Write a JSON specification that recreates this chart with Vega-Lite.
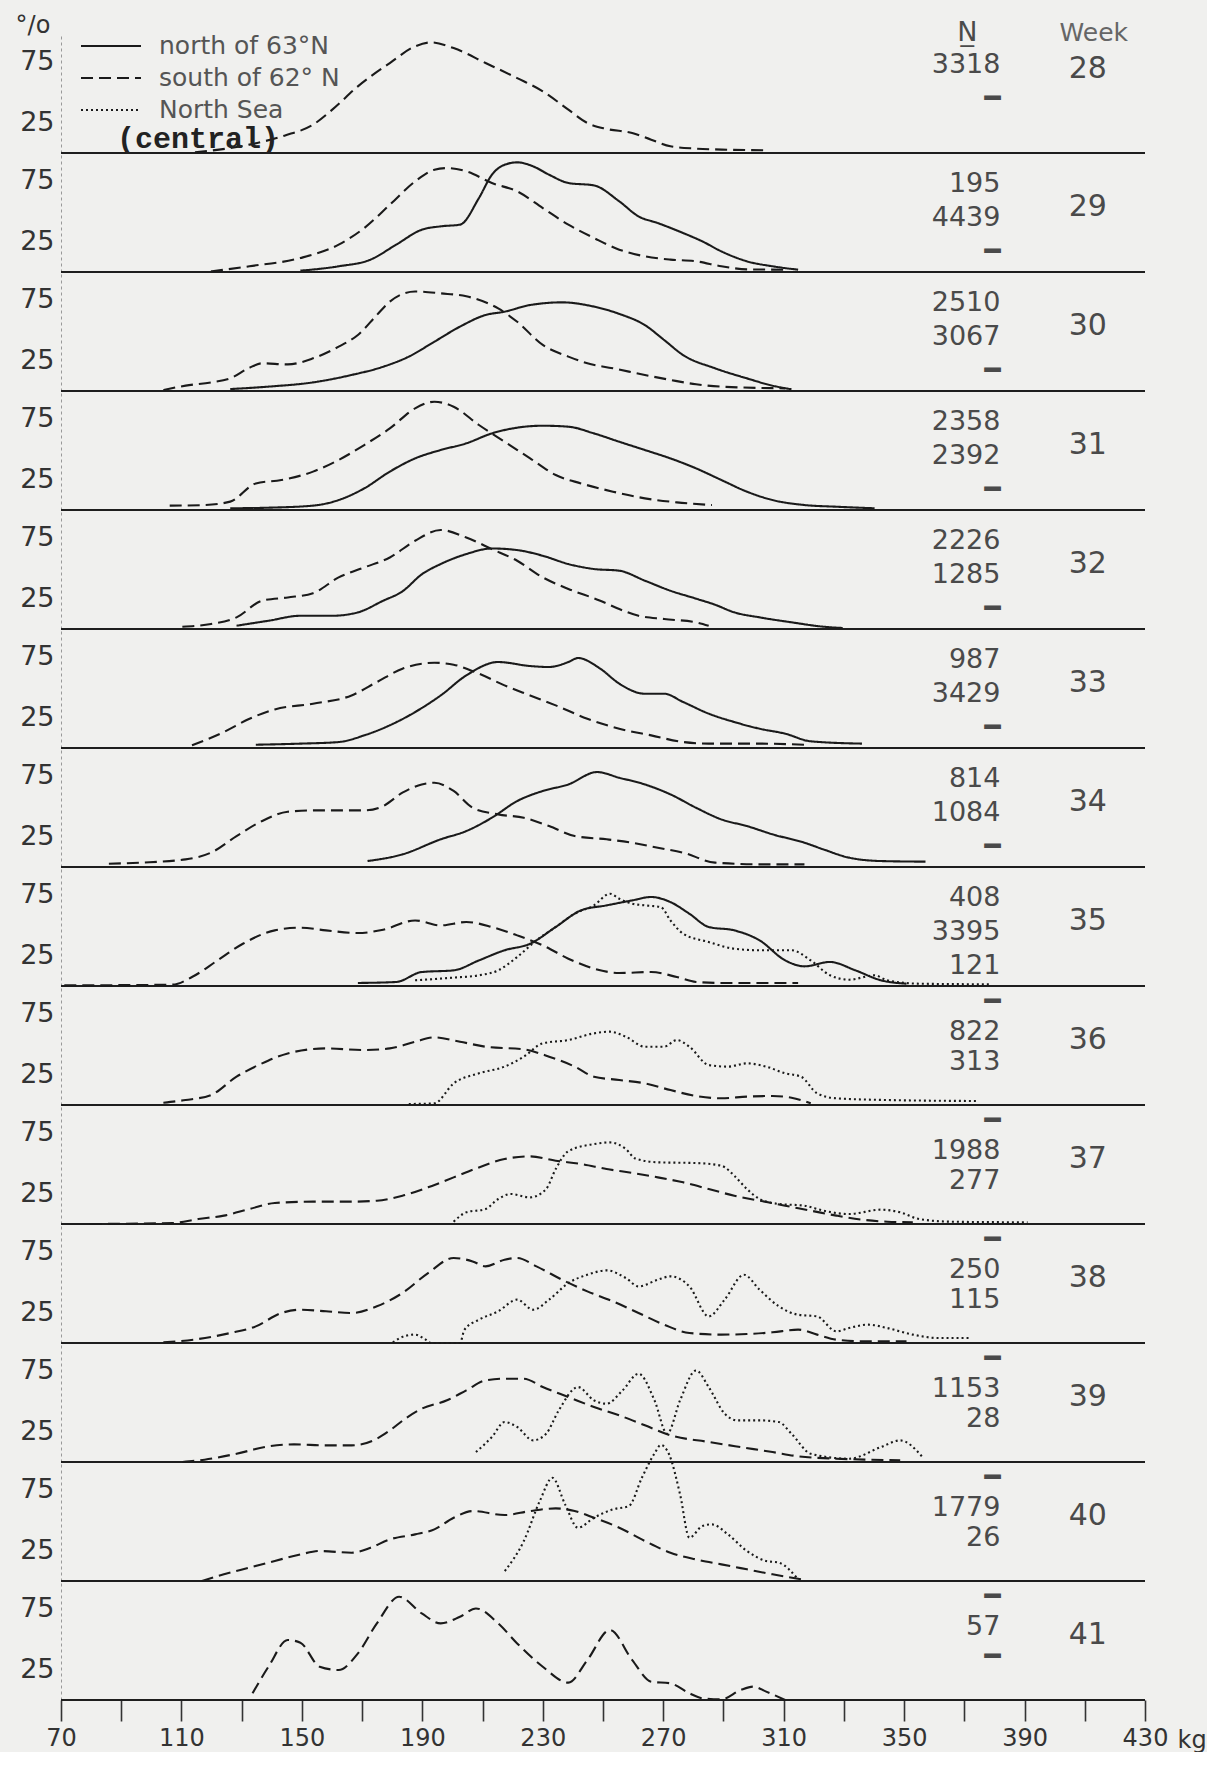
{
"$schema": "https://vega.github.io/schema/vega-lite/v6.json",
"background": "#f0f0ee",
"padding": {"left": 15, "top": 14, "right": 0, "bottom": 0},
"config": {"view": {"stroke": null}, "font": "DejaVu Sans"},
"datasets": {
"t": [
{"w":28,"cnt":"3318|━\u00a0\u00a0"},
{"w":29,"cnt":"195|4439|━\u00a0\u00a0"},
{"w":30,"cnt":"2510|3067|━\u00a0\u00a0"},
{"w":31,"cnt":"2358|2392|━\u00a0\u00a0"},
{"w":32,"cnt":"2226|1285|━\u00a0\u00a0"},
{"w":33,"cnt":"987|3429|━\u00a0\u00a0"},
{"w":34,"cnt":"814|1084|━\u00a0\u00a0"},
{"w":35,"cnt":"408|3395|121"},
{"w":36,"cnt":"━\u00a0\u00a0|822|313"},
{"w":37,"cnt":"━\u00a0|1988|277"},
{"w":38,"cnt":"━\u00a0|250|115"},
{"w":39,"cnt":"━\u00a0|1153|28"},
{"w":40,"cnt":"━\u00a0|1779|26"},
{"w":41,"cnt":"━\u00a0|57|━\u00a0"},
{"w":28,"r":"s","x":114.5,"y":0.5},{"w":28,"r":"s","x":132.6,"y":6.9},{"w":28,"r":"s","x":144.2,"y":14.3},{"w":28,"r":"s","x":153.7,"y":23.3},{"w":28,"r":"s","x":160.1,"y":35.7},{"w":28,"r":"s","x":168.6,"y":54.9},{"w":28,"r":"s","x":179.2,"y":74.1},{"w":28,"r":"s","x":187.6,"y":87.8},{"w":28,"r":"s","x":192.9,"y":91.1},{"w":28,"r":"s","x":200.4,"y":86.4},{"w":28,"r":"s","x":211,"y":74.1},{"w":28,"r":"s","x":221.5,"y":61.7},{"w":28,"r":"s","x":230,"y":50.8},{"w":28,"r":"s","x":238.5,"y":35.7},{"w":28,"r":"s","x":244.8,"y":24.7},{"w":28,"r":"s","x":251.2,"y":19.8},{"w":28,"r":"s","x":259.7,"y":16.5},{"w":28,"r":"s","x":266,"y":11},{"w":28,"r":"s","x":272.4,"y":5.5},{"w":28,"r":"s","x":280.9,"y":3.6},{"w":28,"r":"s","x":291.5,"y":2.7},{"w":28,"r":"s","x":304.2,"y":2.2},
{"w":29,"r":"s","x":119.8,"y":0.5},{"w":29,"r":"s","x":132.6,"y":4.7},{"w":29,"r":"s","x":149.5,"y":11.5},{"w":29,"r":"s","x":162.2,"y":22.5},{"w":29,"r":"s","x":170.7,"y":36.2},{"w":29,"r":"s","x":179.2,"y":55.4},{"w":29,"r":"s","x":187.6,"y":74.6},{"w":29,"r":"s","x":194,"y":84.2},{"w":29,"r":"s","x":198.2,"y":85.6},{"w":29,"r":"s","x":204.6,"y":82.9},{"w":29,"r":"s","x":213.1,"y":73.3},{"w":29,"r":"s","x":221.5,"y":66.4},{"w":29,"r":"s","x":230,"y":52.7},{"w":29,"r":"s","x":238.5,"y":39},{"w":29,"r":"s","x":247,"y":28},{"w":29,"r":"s","x":255.4,"y":18.4},{"w":29,"r":"s","x":263.9,"y":12.9},{"w":29,"r":"s","x":272.4,"y":10.2},{"w":29,"r":"s","x":280.9,"y":8.8},{"w":29,"r":"s","x":289.3,"y":4.7},{"w":29,"r":"s","x":297.8,"y":2.2},{"w":29,"r":"s","x":310.5,"y":1.9},
{"w":29,"r":"n","x":149.5,"y":1.1},{"w":29,"r":"n","x":162.2,"y":4.7},{"w":29,"r":"n","x":172.8,"y":10.2},{"w":29,"r":"n","x":181.3,"y":22.5},{"w":29,"r":"n","x":189.8,"y":34.8},{"w":29,"r":"n","x":196.1,"y":37.6},{"w":29,"r":"n","x":202.5,"y":39},{"w":29,"r":"n","x":208.8,"y":60.9},{"w":29,"r":"n","x":213.1,"y":80.1},{"w":29,"r":"n","x":217.3,"y":88.3},{"w":29,"r":"n","x":221.5,"y":90.3},{"w":29,"r":"n","x":226.8,"y":87},{"w":29,"r":"n","x":232.1,"y":80.1},{"w":29,"r":"n","x":238.5,"y":73.3},{"w":29,"r":"n","x":247,"y":71.3},{"w":29,"r":"n","x":255.4,"y":58.2},{"w":29,"r":"n","x":261.8,"y":45.8},{"w":29,"r":"n","x":268.2,"y":40.3},{"w":29,"r":"n","x":276.6,"y":32.1},{"w":29,"r":"n","x":283,"y":25.2},{"w":29,"r":"n","x":289.3,"y":17},{"w":29,"r":"n","x":297.8,"y":8.8},{"w":29,"r":"n","x":306.3,"y":4.7},{"w":29,"r":"n","x":314.8,"y":1.9},
{"w":30,"r":"s","x":104,"y":0.8},{"w":30,"r":"s","x":111.4,"y":4.4},{"w":30,"r":"s","x":119.8,"y":7.1},{"w":30,"r":"s","x":126.2,"y":10.4},{"w":30,"r":"s","x":132.6,"y":19.2},{"w":30,"r":"s","x":136.8,"y":22.8},{"w":30,"r":"s","x":145.3,"y":21.9},{"w":30,"r":"s","x":153.7,"y":26.9},{"w":30,"r":"s","x":162.2,"y":36.5},{"w":30,"r":"s","x":168.6,"y":46.1},{"w":30,"r":"s","x":174.9,"y":62.6},{"w":30,"r":"s","x":179.2,"y":73.6},{"w":30,"r":"s","x":187.6,"y":82},{"w":30,"r":"s","x":196.1,"y":80.4},{"w":30,"r":"s","x":204.6,"y":78},{"w":30,"r":"s","x":215.2,"y":68},{"w":30,"r":"s","x":221.5,"y":57},{"w":30,"r":"s","x":230,"y":37.9},{"w":30,"r":"s","x":238.5,"y":28.3},{"w":30,"r":"s","x":244.8,"y":22.8},{"w":30,"r":"s","x":253.3,"y":18.7},{"w":30,"r":"s","x":263.9,"y":13.2},{"w":30,"r":"s","x":272.4,"y":9.1},{"w":30,"r":"s","x":280.9,"y":5.5},{"w":30,"r":"s","x":289.3,"y":3.6},{"w":30,"r":"s","x":310.5,"y":2.2},
{"w":30,"r":"n","x":126.2,"y":1.6},{"w":30,"r":"n","x":138.9,"y":3.6},{"w":30,"r":"n","x":153.7,"y":7.1},{"w":30,"r":"n","x":166.5,"y":13.2},{"w":30,"r":"n","x":177,"y":20},{"w":30,"r":"n","x":185.5,"y":28.3},{"w":30,"r":"n","x":194,"y":40.6},{"w":30,"r":"n","x":202.5,"y":53},{"w":30,"r":"n","x":211,"y":62.6},{"w":30,"r":"n","x":217.3,"y":65.3},{"w":30,"r":"n","x":225.8,"y":70.8},{"w":30,"r":"n","x":236.4,"y":73},{"w":30,"r":"n","x":247,"y":69.5},{"w":30,"r":"n","x":255.4,"y":63.5},{"w":30,"r":"n","x":263.9,"y":54.3},{"w":30,"r":"n","x":270.3,"y":42},{"w":30,"r":"n","x":276.6,"y":29.6},{"w":30,"r":"n","x":287.2,"y":18.7},{"w":30,"r":"n","x":297.8,"y":10.4},{"w":30,"r":"n","x":306.3,"y":4.4},{"w":30,"r":"n","x":312.6,"y":1.4},
{"w":31,"r":"s","x":106.1,"y":3.6},{"w":31,"r":"s","x":117.7,"y":4.1},{"w":31,"r":"s","x":126.2,"y":6.9},{"w":31,"r":"s","x":134.7,"y":21.9},{"w":31,"r":"s","x":143.2,"y":24.7},{"w":31,"r":"s","x":153.7,"y":31.6},{"w":31,"r":"s","x":162.2,"y":41.2},{"w":31,"r":"s","x":170.7,"y":53.5},{"w":31,"r":"s","x":179.2,"y":67.2},{"w":31,"r":"s","x":187.6,"y":83.7},{"w":31,"r":"s","x":194,"y":89.2},{"w":31,"r":"s","x":200.4,"y":85},{"w":31,"r":"s","x":208.8,"y":70},{"w":31,"r":"s","x":217.3,"y":56.3},{"w":31,"r":"s","x":225.8,"y":42.5},{"w":31,"r":"s","x":234.3,"y":28.8},{"w":31,"r":"s","x":242.7,"y":21.9},{"w":31,"r":"s","x":253.3,"y":15.1},{"w":31,"r":"s","x":263.9,"y":9.6},{"w":31,"r":"s","x":274.5,"y":6.3},{"w":31,"r":"s","x":286.2,"y":4.1},
{"w":31,"r":"n","x":126.2,"y":1.4},{"w":31,"r":"n","x":138.9,"y":1.9},{"w":31,"r":"n","x":153.7,"y":3.6},{"w":31,"r":"n","x":162.2,"y":8.2},{"w":31,"r":"n","x":170.7,"y":17.8},{"w":31,"r":"n","x":179.2,"y":31.6},{"w":31,"r":"n","x":187.6,"y":42.5},{"w":31,"r":"n","x":196.1,"y":49.4},{"w":31,"r":"n","x":204.6,"y":54.9},{"w":31,"r":"n","x":213.1,"y":63.1},{"w":31,"r":"n","x":221.5,"y":67.8},{"w":31,"r":"n","x":230,"y":69.4},{"w":31,"r":"n","x":238.5,"y":68.6},{"w":31,"r":"n","x":247,"y":63.1},{"w":31,"r":"n","x":255.4,"y":56.2},{"w":31,"r":"n","x":263.9,"y":49.4},{"w":31,"r":"n","x":272.4,"y":42.5},{"w":31,"r":"n","x":280.9,"y":34.3},{"w":31,"r":"n","x":289.3,"y":24.7},{"w":31,"r":"n","x":297.8,"y":15.1},{"w":31,"r":"n","x":306.3,"y":8.2},{"w":31,"r":"n","x":316.9,"y":4.1},{"w":31,"r":"n","x":327.5,"y":2.7},{"w":31,"r":"n","x":340.2,"y":1.4},
{"w":32,"r":"s","x":110.3,"y":1.9},{"w":32,"r":"s","x":119.8,"y":4.1},{"w":32,"r":"s","x":128.3,"y":9.6},{"w":32,"r":"s","x":136.8,"y":23.3},{"w":32,"r":"s","x":145.3,"y":26},{"w":32,"r":"s","x":153.7,"y":29.5},{"w":32,"r":"s","x":162.2,"y":42.5},{"w":32,"r":"s","x":170.7,"y":50.7},{"w":32,"r":"s","x":179.2,"y":58.9},{"w":32,"r":"s","x":187.6,"y":72.7},{"w":32,"r":"s","x":196.1,"y":81.5},{"w":32,"r":"s","x":204.6,"y":75.4},{"w":32,"r":"s","x":213.1,"y":65.8},{"w":32,"r":"s","x":221.5,"y":56.2},{"w":32,"r":"s","x":230,"y":42.5},{"w":32,"r":"s","x":238.5,"y":33},{"w":32,"r":"s","x":249.1,"y":23.3},{"w":32,"r":"s","x":255.4,"y":16.4},{"w":32,"r":"s","x":261.8,"y":10.9},{"w":32,"r":"s","x":270.3,"y":8.2},{"w":32,"r":"s","x":280.9,"y":5.5},{"w":32,"r":"s","x":285.1,"y":2.7},
{"w":32,"r":"n","x":128.3,"y":2.7},{"w":32,"r":"n","x":138.9,"y":6.8},{"w":32,"r":"n","x":149.5,"y":10.9},{"w":32,"r":"n","x":160.1,"y":10.9},{"w":32,"r":"n","x":168.6,"y":13.7},{"w":32,"r":"n","x":177,"y":23.3},{"w":32,"r":"n","x":183.4,"y":31},{"w":32,"r":"n","x":189.8,"y":45},{"w":32,"r":"n","x":196.1,"y":53.5},{"w":32,"r":"n","x":204.6,"y":61.7},{"w":32,"r":"n","x":213.1,"y":66.3},{"w":32,"r":"n","x":221.5,"y":65},{"w":32,"r":"n","x":230,"y":60.3},{"w":32,"r":"n","x":238.5,"y":53.5},{"w":32,"r":"n","x":247,"y":49.4},{"w":32,"r":"n","x":255.4,"y":48},{"w":32,"r":"n","x":263.9,"y":39.8},{"w":32,"r":"n","x":272.4,"y":31.5},{"w":32,"r":"n","x":280.9,"y":25},{"w":32,"r":"n","x":287.2,"y":20},{"w":32,"r":"n","x":293.6,"y":13.7},{"w":32,"r":"n","x":302,"y":9.6},{"w":32,"r":"n","x":312.6,"y":5.5},{"w":32,"r":"n","x":323.2,"y":1.9},{"w":32,"r":"n","x":329.6,"y":0.8},
{"w":33,"r":"s","x":113.5,"y":2.2},{"w":33,"r":"s","x":124.1,"y":13.2},{"w":33,"r":"s","x":132.6,"y":24.1},{"w":33,"r":"s","x":141,"y":31.8},{"w":33,"r":"s","x":153.7,"y":36.5},{"w":33,"r":"s","x":166.5,"y":43.3},{"w":33,"r":"s","x":174.9,"y":54.3},{"w":33,"r":"s","x":183.4,"y":65.3},{"w":33,"r":"s","x":194,"y":70.2},{"w":33,"r":"s","x":200.4,"y":68.6},{"w":33,"r":"s","x":208.8,"y":61.2},{"w":33,"r":"s","x":217.3,"y":51.6},{"w":33,"r":"s","x":225.8,"y":43.3},{"w":33,"r":"s","x":234.3,"y":35.1},{"w":33,"r":"s","x":244.8,"y":24.1},{"w":33,"r":"s","x":255.4,"y":15.9},{"w":33,"r":"s","x":266,"y":10.4},{"w":33,"r":"s","x":276.6,"y":4.9},{"w":33,"r":"s","x":285.1,"y":3.6},{"w":33,"r":"s","x":302,"y":3.6},{"w":33,"r":"s","x":316.9,"y":2.7},
{"w":33,"r":"n","x":134.7,"y":2.7},{"w":33,"r":"n","x":149.5,"y":3.6},{"w":33,"r":"n","x":162.2,"y":4.9},{"w":33,"r":"n","x":170.7,"y":10.4},{"w":33,"r":"n","x":179.2,"y":18.7},{"w":33,"r":"n","x":187.6,"y":29.6},{"w":33,"r":"n","x":196.1,"y":43.3},{"w":33,"r":"n","x":204.6,"y":59.8},{"w":33,"r":"n","x":215.2,"y":70.8},{"w":33,"r":"n","x":225.8,"y":67.5},{"w":33,"r":"n","x":232.1,"y":66.7},{"w":33,"r":"n","x":238.5,"y":70.8},{"w":33,"r":"n","x":241.7,"y":74.1},{"w":33,"r":"n","x":249.1,"y":65.3},{"w":33,"r":"n","x":255.4,"y":53},{"w":33,"r":"n","x":263.9,"y":44.7},{"w":33,"r":"n","x":270.3,"y":44.7},{"w":33,"r":"n","x":276.6,"y":37.9},{"w":33,"r":"n","x":285.1,"y":28.3},{"w":33,"r":"n","x":293.6,"y":21.4},{"w":33,"r":"n","x":302,"y":15.9},{"w":33,"r":"n","x":310.5,"y":11.8},{"w":33,"r":"n","x":319,"y":5.5},{"w":33,"r":"n","x":336,"y":3.6},
{"w":34,"r":"s","x":85.9,"y":2.7},{"w":34,"r":"s","x":96.5,"y":3.6},{"w":34,"r":"s","x":111.4,"y":6.3},{"w":34,"r":"s","x":119.8,"y":11.8},{"w":34,"r":"s","x":128.3,"y":25.5},{"w":34,"r":"s","x":136.8,"y":37.9},{"w":34,"r":"s","x":145.3,"y":45.5},{"w":34,"r":"s","x":153.7,"y":46.6},{"w":34,"r":"s","x":170.7,"y":46.6},{"w":34,"r":"s","x":177,"y":50.2},{"w":34,"r":"s","x":183.4,"y":61.2},{"w":34,"r":"s","x":189.8,"y":68},{"w":34,"r":"s","x":194,"y":69.4},{"w":34,"r":"s","x":200.4,"y":62.6},{"w":34,"r":"s","x":206.7,"y":48.8},{"w":34,"r":"s","x":215.2,"y":43.3},{"w":34,"r":"s","x":223.7,"y":40.6},{"w":34,"r":"s","x":232.1,"y":33.7},{"w":34,"r":"s","x":240.6,"y":25.5},{"w":34,"r":"s","x":251.2,"y":22.8},{"w":34,"r":"s","x":259.7,"y":20},{"w":34,"r":"s","x":268.2,"y":15.9},{"w":34,"r":"s","x":276.6,"y":11.8},{"w":34,"r":"s","x":287.2,"y":3.6},{"w":34,"r":"s","x":302,"y":2.2},{"w":34,"r":"s","x":316.9,"y":2.2},
{"w":34,"r":"n","x":171.8,"y":4.9},{"w":34,"r":"n","x":183.4,"y":10.4},{"w":34,"r":"n","x":196.1,"y":22.8},{"w":34,"r":"n","x":204.6,"y":29.6},{"w":34,"r":"n","x":213.1,"y":40.6},{"w":34,"r":"n","x":221.5,"y":54.3},{"w":34,"r":"n","x":230,"y":62.6},{"w":34,"r":"n","x":238.5,"y":68},{"w":34,"r":"n","x":248,"y":78.2},{"w":34,"r":"n","x":255.4,"y":73.5},{"w":34,"r":"n","x":263.9,"y":68},{"w":34,"r":"n","x":272.4,"y":59.8},{"w":34,"r":"n","x":280.9,"y":48.8},{"w":34,"r":"n","x":289.3,"y":39.2},{"w":34,"r":"n","x":297.8,"y":33.7},{"w":34,"r":"n","x":306.3,"y":26.9},{"w":34,"r":"n","x":316.9,"y":20},{"w":34,"r":"n","x":323.2,"y":14.5},{"w":34,"r":"n","x":331.7,"y":7.7},{"w":34,"r":"n","x":342.3,"y":4.9},{"w":34,"r":"n","x":357.1,"y":4.4},
{"w":35,"r":"s","x":71.1,"y":0.5},{"w":35,"r":"s","x":107.1,"y":1.1},{"w":35,"r":"s","x":113.5,"y":7.4},{"w":35,"r":"s","x":122,"y":21.1},{"w":35,"r":"s","x":130.4,"y":34.8},{"w":35,"r":"s","x":141,"y":45.8},{"w":35,"r":"s","x":149.5,"y":48},{"w":35,"r":"s","x":158,"y":45.8},{"w":35,"r":"s","x":168.6,"y":43.6},{"w":35,"r":"s","x":177,"y":46.4},{"w":35,"r":"s","x":187.6,"y":54},{"w":35,"r":"s","x":196.1,"y":49.9},{"w":35,"r":"s","x":204.6,"y":52.7},{"w":35,"r":"s","x":213.1,"y":48.6},{"w":35,"r":"s","x":221.5,"y":41.7},{"w":35,"r":"s","x":230,"y":33.5},{"w":35,"r":"s","x":238.5,"y":22.5},{"w":35,"r":"s","x":247,"y":14.3},{"w":35,"r":"s","x":255.4,"y":10.7},{"w":35,"r":"s","x":266,"y":11.5},{"w":35,"r":"s","x":274.5,"y":7.4},{"w":35,"r":"s","x":280.9,"y":3.3},{"w":35,"r":"s","x":289.3,"y":2.5},{"w":35,"r":"s","x":314.8,"y":2.5},
{"w":35,"r":"n","x":168.6,"y":2.5},{"w":35,"r":"n","x":181.3,"y":3.3},{"w":35,"r":"n","x":189.8,"y":11.5},{"w":35,"r":"n","x":200.4,"y":12.9},{"w":35,"r":"n","x":208.8,"y":21.1},{"w":35,"r":"n","x":217.3,"y":29.4},{"w":35,"r":"n","x":225.8,"y":34.8},{"w":35,"r":"n","x":234.3,"y":48.6},{"w":35,"r":"n","x":242.7,"y":62.3},{"w":35,"r":"n","x":251.2,"y":66.4},{"w":35,"r":"n","x":259.7,"y":70.5},{"w":35,"r":"n","x":266,"y":73.3},{"w":35,"r":"n","x":272.4,"y":69.1},{"w":35,"r":"n","x":278.7,"y":59.5},{"w":35,"r":"n","x":285.1,"y":48.6},{"w":35,"r":"n","x":293.6,"y":45.8},{"w":35,"r":"n","x":302,"y":37.6},{"w":35,"r":"n","x":310.5,"y":21.1},{"w":35,"r":"n","x":316.9,"y":16.2},{"w":35,"r":"n","x":325.4,"y":19.8},{"w":35,"r":"n","x":333.8,"y":12.9},{"w":35,"r":"n","x":342.3,"y":4.7},{"w":35,"r":"n","x":350.8,"y":1.9},
{"w":35,"r":"ns","x":187.6,"y":4.7},{"w":35,"r":"ns","x":200.4,"y":6.9},{"w":35,"r":"ns","x":208.8,"y":8.8},{"w":35,"r":"ns","x":215.2,"y":12.9},{"w":35,"r":"ns","x":221.5,"y":23.9},{"w":35,"r":"ns","x":227.9,"y":37.6},{"w":35,"r":"ns","x":234.3,"y":48.6},{"w":35,"r":"ns","x":240.6,"y":59.5},{"w":35,"r":"ns","x":247,"y":66.4},{"w":35,"r":"ns","x":252.3,"y":76},{"w":35,"r":"ns","x":255.4,"y":71.9},{"w":35,"r":"ns","x":259.7,"y":67.8},{"w":35,"r":"ns","x":263.9,"y":66.4},{"w":35,"r":"ns","x":269.2,"y":65},{"w":35,"r":"ns","x":272.4,"y":54},{"w":35,"r":"ns","x":276.6,"y":43.1},{"w":35,"r":"ns","x":285.1,"y":36.2},{"w":35,"r":"ns","x":293.6,"y":30.7},{"w":35,"r":"ns","x":302,"y":29.4},{"w":35,"r":"ns","x":312.6,"y":29.4},{"w":35,"r":"ns","x":319,"y":21.1},{"w":35,"r":"ns","x":325.4,"y":8.8},{"w":35,"r":"ns","x":331.7,"y":5.2},{"w":35,"r":"ns","x":340.2,"y":8.8},{"w":35,"r":"ns","x":344.4,"y":4.7},{"w":35,"r":"ns","x":355,"y":1.9},{"w":35,"r":"ns","x":378.3,"y":1.4},
{"w":36,"r":"s","x":104,"y":1.9},{"w":36,"r":"s","x":111.4,"y":4.1},{"w":36,"r":"s","x":119.8,"y":8.2},{"w":36,"r":"s","x":128.3,"y":23.3},{"w":36,"r":"s","x":136.8,"y":34.3},{"w":36,"r":"s","x":145.3,"y":42.5},{"w":36,"r":"s","x":158,"y":46.6},{"w":36,"r":"s","x":170.7,"y":45.3},{"w":36,"r":"s","x":179.2,"y":46.6},{"w":36,"r":"s","x":187.6,"y":52.1},{"w":36,"r":"s","x":194,"y":55.7},{"w":36,"r":"s","x":202.5,"y":52.1},{"w":36,"r":"s","x":211,"y":48},{"w":36,"r":"s","x":223.7,"y":45.8},{"w":36,"r":"s","x":232.1,"y":39.8},{"w":36,"r":"s","x":240.6,"y":31.6},{"w":36,"r":"s","x":247,"y":23.3},{"w":36,"r":"s","x":255.4,"y":20.6},{"w":36,"r":"s","x":263.9,"y":17.8},{"w":36,"r":"s","x":272.4,"y":12.3},{"w":36,"r":"s","x":280.9,"y":7.4},{"w":36,"r":"s","x":289.3,"y":5.5},{"w":36,"r":"s","x":297.8,"y":6.9},{"w":36,"r":"s","x":306.3,"y":7.4},{"w":36,"r":"s","x":312.6,"y":6},{"w":36,"r":"s","x":319,"y":1.4},
{"w":36,"r":"ns","x":185.5,"y":0.8},{"w":36,"r":"ns","x":194,"y":1.4},{"w":36,"r":"ns","x":200.4,"y":17.8},{"w":36,"r":"ns","x":208.8,"y":26.1},{"w":36,"r":"ns","x":217.3,"y":31.6},{"w":36,"r":"ns","x":223.7,"y":39.8},{"w":36,"r":"ns","x":230,"y":50.8},{"w":36,"r":"ns","x":238.5,"y":53.5},{"w":36,"r":"ns","x":247,"y":59},{"w":36,"r":"ns","x":252.3,"y":60.4},{"w":36,"r":"ns","x":257.6,"y":56.2},{"w":36,"r":"ns","x":263.9,"y":48},{"w":36,"r":"ns","x":270.3,"y":48},{"w":36,"r":"ns","x":274.5,"y":53.5},{"w":36,"r":"ns","x":278.7,"y":48},{"w":36,"r":"ns","x":285.1,"y":32.9},{"w":36,"r":"ns","x":291.5,"y":31.6},{"w":36,"r":"ns","x":297.8,"y":34.3},{"w":36,"r":"ns","x":304.2,"y":31.6},{"w":36,"r":"ns","x":310.5,"y":26.1},{"w":36,"r":"ns","x":315.8,"y":23.3},{"w":36,"r":"ns","x":321.1,"y":9.6},{"w":36,"r":"ns","x":327.5,"y":5.5},{"w":36,"r":"ns","x":344.4,"y":4.1},{"w":36,"r":"ns","x":374.1,"y":3.3},
{"w":37,"r":"s","x":79.6,"y":0},{"w":37,"r":"s","x":107.1,"y":0.8},{"w":37,"r":"s","x":115.6,"y":4.1},{"w":37,"r":"s","x":124.1,"y":6.9},{"w":37,"r":"s","x":132.6,"y":12.3},{"w":37,"r":"s","x":141,"y":17.3},{"w":37,"r":"s","x":153.7,"y":18.4},{"w":37,"r":"s","x":166.5,"y":18.4},{"w":37,"r":"s","x":174.9,"y":19.2},{"w":37,"r":"s","x":183.4,"y":23.3},{"w":37,"r":"s","x":191.9,"y":30.2},{"w":37,"r":"s","x":200.4,"y":38.4},{"w":37,"r":"s","x":208.8,"y":46.6},{"w":37,"r":"s","x":217.3,"y":53.5},{"w":37,"r":"s","x":225.8,"y":55.7},{"w":37,"r":"s","x":234.3,"y":52.1},{"w":37,"r":"s","x":242.7,"y":49.4},{"w":37,"r":"s","x":251.2,"y":45.3},{"w":37,"r":"s","x":259.7,"y":42},{"w":37,"r":"s","x":268.2,"y":38.4},{"w":37,"r":"s","x":276.6,"y":34.3},{"w":37,"r":"s","x":285.1,"y":28.8},{"w":37,"r":"s","x":293.6,"y":23.3},{"w":37,"r":"s","x":302,"y":19.2},{"w":37,"r":"s","x":310.5,"y":15.1},{"w":37,"r":"s","x":319,"y":11},{"w":37,"r":"s","x":327.5,"y":6.9},{"w":37,"r":"s","x":335.9,"y":3.6},{"w":37,"r":"s","x":344.4,"y":1.9},{"w":37,"r":"s","x":352.9,"y":1.4},
{"w":37,"r":"ns","x":200.4,"y":1.9},{"w":37,"r":"ns","x":204.6,"y":9.6},{"w":37,"r":"ns","x":211,"y":12.3},{"w":37,"r":"ns","x":215.2,"y":20.6},{"w":37,"r":"ns","x":219.4,"y":24.7},{"w":37,"r":"ns","x":225.8,"y":21.9},{"w":37,"r":"ns","x":231.1,"y":28.8},{"w":37,"r":"ns","x":234.3,"y":45.3},{"w":37,"r":"ns","x":238.5,"y":60},{"w":37,"r":"ns","x":247,"y":65.8},{"w":37,"r":"ns","x":252.3,"y":67.2},{"w":37,"r":"ns","x":257.6,"y":61.7},{"w":37,"r":"ns","x":260.7,"y":54},{"w":37,"r":"ns","x":268.2,"y":50.8},{"w":37,"r":"ns","x":280.9,"y":50.2},{"w":37,"r":"ns","x":289.3,"y":48},{"w":37,"r":"ns","x":293.6,"y":39.8},{"w":37,"r":"ns","x":297.8,"y":28.8},{"w":37,"r":"ns","x":302,"y":20.6},{"w":37,"r":"ns","x":308.4,"y":16.5},{"w":37,"r":"ns","x":316.9,"y":15.1},{"w":37,"r":"ns","x":323.2,"y":11},{"w":37,"r":"ns","x":331.7,"y":8.2},{"w":37,"r":"ns","x":342.3,"y":11.8},{"w":37,"r":"ns","x":348.7,"y":9.6},{"w":37,"r":"ns","x":355,"y":4.1},{"w":37,"r":"ns","x":365.6,"y":1.9},{"w":37,"r":"ns","x":391,"y":1.4},
{"w":38,"r":"s","x":104,"y":0.5},{"w":38,"r":"s","x":115.6,"y":3.3},{"w":38,"r":"s","x":126.2,"y":8.2},{"w":38,"r":"s","x":134.7,"y":13.7},{"w":38,"r":"s","x":143.2,"y":24.7},{"w":38,"r":"s","x":149.5,"y":27.4},{"w":38,"r":"s","x":158,"y":26.1},{"w":38,"r":"s","x":166.5,"y":24.7},{"w":38,"r":"s","x":174.9,"y":30.2},{"w":38,"r":"s","x":183.4,"y":41.2},{"w":38,"r":"s","x":191.9,"y":57.6},{"w":38,"r":"s","x":200.4,"y":70},{"w":38,"r":"s","x":206.7,"y":67.2},{"w":38,"r":"s","x":211,"y":63.1},{"w":38,"r":"s","x":217.3,"y":68.6},{"w":38,"r":"s","x":221.5,"y":70},{"w":38,"r":"s","x":227.9,"y":63.1},{"w":38,"r":"s","x":236.4,"y":52.1},{"w":38,"r":"s","x":244.8,"y":42.5},{"w":38,"r":"s","x":253.3,"y":34.3},{"w":38,"r":"s","x":261.8,"y":24.7},{"w":38,"r":"s","x":270.3,"y":15.1},{"w":38,"r":"s","x":278.7,"y":8.2},{"w":38,"r":"s","x":289.3,"y":6.9},{"w":38,"r":"s","x":297.8,"y":7.4},{"w":38,"r":"s","x":306.3,"y":8.8},{"w":38,"r":"s","x":314.8,"y":11},{"w":38,"r":"s","x":321.1,"y":6.9},{"w":38,"r":"s","x":327.5,"y":2.7},{"w":38,"r":"s","x":335.9,"y":1.4},{"w":38,"r":"s","x":350.8,"y":1.4},
{"w":38,"r":"ns","x":180.2,"y":0.5},{"w":38,"r":"ns","x":184.5,"y":6},{"w":38,"r":"ns","x":187.6,"y":6.9},{"w":38,"r":"ns","x":190.8,"y":3.3},{"w":38,"r":"ns","x":192.9,"y":0},{"w":38,"r":"ns","x":202.5,"y":0},{"w":38,"r":"ns","x":204,"y":11},{"w":38,"r":"ns","x":208.8,"y":19.2},{"w":38,"r":"ns","x":215.2,"y":26.1},{"w":38,"r":"ns","x":221.5,"y":35.7},{"w":38,"r":"ns","x":226.8,"y":27.4},{"w":38,"r":"ns","x":232.1,"y":35.7},{"w":38,"r":"ns","x":238.5,"y":49.4},{"w":38,"r":"ns","x":244.8,"y":56.2},{"w":38,"r":"ns","x":251.2,"y":59.8},{"w":38,"r":"ns","x":257.6,"y":53.5},{"w":38,"r":"ns","x":261.8,"y":46.6},{"w":38,"r":"ns","x":268.2,"y":52.1},{"w":38,"r":"ns","x":272.4,"y":54.9},{"w":38,"r":"ns","x":278.7,"y":46.6},{"w":38,"r":"ns","x":285.1,"y":21.9},{"w":38,"r":"ns","x":290.4,"y":35.7},{"w":38,"r":"ns","x":296.8,"y":56.2},{"w":38,"r":"ns","x":302,"y":43.9},{"w":38,"r":"ns","x":308.4,"y":30.2},{"w":38,"r":"ns","x":314.8,"y":23.3},{"w":38,"r":"ns","x":321.1,"y":21.9},{"w":38,"r":"ns","x":327.5,"y":9.6},{"w":38,"r":"ns","x":331.7,"y":12.3},{"w":38,"r":"ns","x":338.1,"y":15.1},{"w":38,"r":"ns","x":344.4,"y":12.3},{"w":38,"r":"ns","x":352.9,"y":6.9},{"w":38,"r":"ns","x":361.4,"y":4.1},{"w":38,"r":"ns","x":372,"y":4.1},
{"w":39,"r":"s","x":110.3,"y":0},{"w":39,"r":"s","x":117.7,"y":1.9},{"w":39,"r":"s","x":128.3,"y":6.8},{"w":39,"r":"s","x":138.9,"y":12.9},{"w":39,"r":"s","x":147.4,"y":14.5},{"w":39,"r":"s","x":158,"y":13.7},{"w":39,"r":"s","x":166.5,"y":13.7},{"w":39,"r":"s","x":174.9,"y":19.2},{"w":39,"r":"s","x":179.2,"y":26},{"w":39,"r":"s","x":184.5,"y":36},{"w":39,"r":"s","x":189.8,"y":43.9},{"w":39,"r":"s","x":198.2,"y":50.8},{"w":39,"r":"s","x":204.6,"y":59},{"w":39,"r":"s","x":211,"y":67.2},{"w":39,"r":"s","x":217.3,"y":68.6},{"w":39,"r":"s","x":223.7,"y":68.6},{"w":39,"r":"s","x":230,"y":61.7},{"w":39,"r":"s","x":238.5,"y":53.5},{"w":39,"r":"s","x":247,"y":45.3},{"w":39,"r":"s","x":255.4,"y":38.4},{"w":39,"r":"s","x":263.9,"y":30.2},{"w":39,"r":"s","x":272.4,"y":22},{"w":39,"r":"s","x":285.1,"y":16.5},{"w":39,"r":"s","x":295.7,"y":12.3},{"w":39,"r":"s","x":306.3,"y":8.2},{"w":39,"r":"s","x":314.8,"y":4.7},{"w":39,"r":"s","x":327.5,"y":2.7},{"w":39,"r":"s","x":338.1,"y":1.9},{"w":39,"r":"s","x":348.7,"y":1.4},
{"w":39,"r":"ns","x":207.8,"y":8.2},{"w":39,"r":"ns","x":213.1,"y":20.6},{"w":39,"r":"ns","x":217.3,"y":32.9},{"w":39,"r":"ns","x":221.5,"y":28.8},{"w":39,"r":"ns","x":226.8,"y":17.8},{"w":39,"r":"ns","x":231.1,"y":23.3},{"w":39,"r":"ns","x":235.3,"y":42.5},{"w":39,"r":"ns","x":241.7,"y":61.7},{"w":39,"r":"ns","x":247,"y":50.8},{"w":39,"r":"ns","x":251.2,"y":48},{"w":39,"r":"ns","x":256.5,"y":59},{"w":39,"r":"ns","x":261.8,"y":72.7},{"w":39,"r":"ns","x":267.1,"y":50.8},{"w":39,"r":"ns","x":271.3,"y":23.3},{"w":39,"r":"ns","x":275.6,"y":50.8},{"w":39,"r":"ns","x":280.9,"y":75.4},{"w":39,"r":"ns","x":285.1,"y":61.7},{"w":39,"r":"ns","x":290.4,"y":39.8},{"w":39,"r":"ns","x":294.6,"y":34.3},{"w":39,"r":"ns","x":302,"y":34.3},{"w":39,"r":"ns","x":308.4,"y":32.9},{"w":39,"r":"ns","x":312.6,"y":23.3},{"w":39,"r":"ns","x":319,"y":6.8},{"w":39,"r":"ns","x":331.7,"y":2.7},{"w":39,"r":"ns","x":342.3,"y":12.3},{"w":39,"r":"ns","x":348.7,"y":17.8},{"w":39,"r":"ns","x":356.1,"y":4.1},
{"w":40,"r":"s","x":116.7,"y":0},{"w":40,"r":"s","x":124.1,"y":5.5},{"w":40,"r":"s","x":132.6,"y":11},{"w":40,"r":"s","x":141,"y":16.5},{"w":40,"r":"s","x":149.5,"y":21.9},{"w":40,"r":"s","x":155.9,"y":24.7},{"w":40,"r":"s","x":166.5,"y":23.3},{"w":40,"r":"s","x":172.8,"y":27.4},{"w":40,"r":"s","x":179.2,"y":34.3},{"w":40,"r":"s","x":187.6,"y":38.4},{"w":40,"r":"s","x":194,"y":42.5},{"w":40,"r":"s","x":200.4,"y":52.1},{"w":40,"r":"s","x":206.7,"y":57.6},{"w":40,"r":"s","x":217.3,"y":54.3},{"w":40,"r":"s","x":225.8,"y":57.6},{"w":40,"r":"s","x":234.3,"y":59.8},{"w":40,"r":"s","x":240.6,"y":57.6},{"w":40,"r":"s","x":247,"y":52.1},{"w":40,"r":"s","x":255.4,"y":43.9},{"w":40,"r":"s","x":263.9,"y":32.9},{"w":40,"r":"s","x":272.4,"y":23.3},{"w":40,"r":"s","x":280.9,"y":17.8},{"w":40,"r":"s","x":289.3,"y":13.7},{"w":40,"r":"s","x":297.8,"y":9.6},{"w":40,"r":"s","x":306.3,"y":5.5},{"w":40,"r":"s","x":315.8,"y":1.4},
{"w":40,"r":"ns","x":217.4,"y":8.2},{"w":40,"r":"ns","x":223.7,"y":32.9},{"w":40,"r":"ns","x":229,"y":65.8},{"w":40,"r":"ns","x":233.2,"y":85},{"w":40,"r":"ns","x":237.4,"y":63.1},{"w":40,"r":"ns","x":241.7,"y":43.9},{"w":40,"r":"ns","x":247,"y":52.1},{"w":40,"r":"ns","x":253.3,"y":59},{"w":40,"r":"ns","x":258.6,"y":61.7},{"w":40,"r":"ns","x":262.9,"y":85},{"w":40,"r":"ns","x":267.1,"y":105},{"w":40,"r":"ns","x":269.2,"y":112},{"w":40,"r":"ns","x":272,"y":104},{"w":40,"r":"ns","x":275.6,"y":71.3},{"w":40,"r":"ns","x":278.7,"y":35.7},{"w":40,"r":"ns","x":283,"y":45.3},{"w":40,"r":"ns","x":286.2,"y":46.6},{"w":40,"r":"ns","x":291.5,"y":38.4},{"w":40,"r":"ns","x":297.8,"y":24.7},{"w":40,"r":"ns","x":304.2,"y":16.5},{"w":40,"r":"ns","x":308.4,"y":15.1},{"w":40,"r":"ns","x":314.8,"y":1.4},
{"w":41,"r":"s","x":133.6,"y":5.5},{"w":41,"r":"s","x":138.9,"y":27.4},{"w":41,"r":"s","x":145.3,"y":49.4},{"w":41,"r":"s","x":149.5,"y":47.2},{"w":41,"r":"s","x":155.9,"y":27.4},{"w":41,"r":"s","x":162.2,"y":24.7},{"w":41,"r":"s","x":168.6,"y":38.4},{"w":41,"r":"s","x":174.9,"y":63.1},{"w":41,"r":"s","x":182.3,"y":85},{"w":41,"r":"s","x":189.8,"y":71.3},{"w":41,"r":"s","x":196.1,"y":63.1},{"w":41,"r":"s","x":202.5,"y":68.6},{"w":41,"r":"s","x":207.8,"y":75.4},{"w":41,"r":"s","x":215.2,"y":63.1},{"w":41,"r":"s","x":221.5,"y":46.6},{"w":41,"r":"s","x":230,"y":27.4},{"w":41,"r":"s","x":238.5,"y":14.3},{"w":41,"r":"s","x":244.8,"y":32.9},{"w":41,"r":"s","x":252.3,"y":57.6},{"w":41,"r":"s","x":259.7,"y":32.9},{"w":41,"r":"s","x":266,"y":15.1},{"w":41,"r":"s","x":272.4,"y":13.7},{"w":41,"r":"s","x":278.7,"y":5.5},{"w":41,"r":"s","x":283,"y":1.4},{"w":41,"r":"s","x":289.3,"y":0.5},{"w":41,"r":"s","x":295.7,"y":8.2},{"w":41,"r":"s","x":299.9,"y":11},{"w":41,"r":"s","x":304.2,"y":6.9},{"w":41,"r":"s","x":310.5,"y":0}
]
},
"data": {"name": "t"},
"spacing": {"row": 0},
"bounds": "flush",
"facet": {"row": {"field": "w", "type": "ordinal", "title": null, "header": {"title": null, "labels": false}}},
"spec": {
"width": 1084,
"height": 119,
"layer": [
{
"transform": [{"filter": "datum.cnt"}],
"mark": {"type": "rule", "stroke": "#1e1e1e", "strokeWidth": 2},
"encoding": {"y": {"datum": 0, "type": "quantitative"}}
},
{
"transform": [{"filter": "datum.r"}],
"mark": {"type": "line", "interpolate": "monotone", "stroke": "#1a1a1a", "strokeWidth": 2.1},
"encoding": {
"x": {"field": "x", "type": "quantitative", "scale": {"domain": [70, 430], "nice": false, "zero": false},
"axis": {"values": [70,80,90,100,110,120,130,140,150,160,170,180,190,200,210,220,230,240,250,260,270,280,290,300,310,320,330,340,350,360,370,380,390,400,410,420,430],
"labelExpr": "datum.value % 40 === 30 ? datum.label : ''", "labelOverlap": false, "labelFlush": false,
"labelFontSize": 24, "labelColor": "#333", "labelPadding": 5, "tickSize": 21, "tickColor": "#333", "tickWidth": 1.6,
"domain": false, "grid": false, "title": "kg", "titleFontSize": 24, "titleFontWeight": "normal", "titleColor": "#333",
"titleX": 1116, "titleY": 40, "titleAlign": "left", "titleBaseline": "middle",
"encode": {"ticks": {"update": {"y2": {"signal": "datum.value % 40 === 30 ? 21 : 13"}}}}}},
"y": {"field": "y", "type": "quantitative", "scale": {"domain": [0, 98], "nice": false},
"axis": {"values": [25, 50, 75], "labelExpr": "datum.value === 50 ? '' : datum.label", "title": null, "grid": false,
"labelFontSize": 27, "labelColor": "#333", "labelPadding": 7, "tickSize": 0, "tickColor": "#222", "tickWidth": 2,
"domainColor": "#999", "domainDash": [3, 3], "domainWidth": 1,
"encode": {"ticks": {"update": {"x2": {"signal": "datum.value === 50 ? 23 : 40"}}}}}},
"strokeDash": {"field": "r", "type": "nominal", "scale": {"domain": ["n", "s", "ns"], "range": [[1, 0], [12, 6], [2, 3]]},
"legend": {"title": null, "orient": "none", "legendX": 19, "legendY": -4, "padding": 0, "symbolType": "stroke", "symbolSize": 3600,
"symbolStrokeWidth": 2, "symbolStrokeColor": "#1a1a1a", "clipHeight": 32, "rowPadding": 0, "labelOffset": 17,
"labelFontSize": 25, "labelColor": "#555", "labelLimit": 400,
"labelExpr": "datum.value === 'n' ? 'north of 63°N' : datum.value === 's' ? 'south of 62° N' : 'North Sea'"}}
}
},
{
"transform": [{"filter": "datum.cnt && datum.w <= 35"}],
"mark": {"type": "text", "align": "right", "baseline": "alphabetic", "lineBreak": "|", "lineHeight": 34, "fontSize": 27, "color": "#4a4a4a"},
"encoding": {"x": {"datum": 382, "type": "quantitative"}, "y": {"datum": 65.9, "type": "quantitative"}, "text": {"field": "cnt"}}
},
{
"transform": [{"filter": "datum.cnt && datum.w >= 36"}],
"mark": {"type": "text", "align": "right", "baseline": "alphabetic", "lineBreak": "|", "lineHeight": 30, "fontSize": 27, "color": "#4a4a4a"},
"encoding": {"x": {"datum": 382, "type": "quantitative"}, "y": {"datum": 78.5, "type": "quantitative"}, "text": {"field": "cnt"}}
},
{
"transform": [{"filter": "datum.cnt && datum.w !== 28"}],
"mark": {"type": "text", "align": "center", "baseline": "alphabetic", "fontSize": 30, "color": "#4a4a4a"},
"encoding": {"x": {"datum": 411, "type": "quantitative"}, "y": {"datum": 46.1, "type": "quantitative"}, "text": {"field": "w"}}
},
{
"transform": [{"filter": "datum.cnt && datum.w === 28"}],
"mark": {"type": "text", "align": "center", "baseline": "alphabetic", "fontSize": 30, "color": "#4a4a4a"},
"encoding": {"x": {"datum": 411, "type": "quantitative"}, "y": {"datum": 62, "type": "quantitative"}, "text": {"field": "w"}}
},
{
"transform": [{"filter": "datum.cnt && datum.w === 28"}],
"mark": {"type": "text", "align": "center", "baseline": "alphabetic", "fontSize": 25, "color": "#666"},
"encoding": {"x": {"datum": 413, "type": "quantitative"}, "y": {"datum": 92.5, "type": "quantitative"}, "text": {"value": "Week"}}
},
{
"transform": [{"filter": "datum.cnt && datum.w === 28"}],
"mark": {"type": "text", "align": "center", "baseline": "alphabetic", "fontSize": 27, "color": "#4a4a4a"},
"encoding": {"x": {"datum": 371, "type": "quantitative"}, "y": {"datum": 92, "type": "quantitative"}, "text": {"value": "N\u0332"}}
},
{
"transform": [{"filter": "datum.cnt && datum.w === 28"}],
"mark": {"type": "text", "align": "center", "baseline": "alphabetic", "fontSize": 24, "color": "#333"},
"encoding": {"x": {"datum": 60.7, "type": "quantitative"}, "y": {"datum": 98.8, "type": "quantitative"}, "text": {"value": "°/o"}}
},
{
"transform": [{"filter": "datum.cnt && datum.w === 28"}],
"mark": {"type": "text", "align": "center", "baseline": "alphabetic", "fontSize": 30, "font": "Liberation Mono", "fontWeight": "bold", "color": "#222"},
"encoding": {"x": {"datum": 115.5, "type": "quantitative"}, "y": {"datum": 4, "type": "quantitative"}, "text": {"value": "(central)"}}
}
]
}
}
